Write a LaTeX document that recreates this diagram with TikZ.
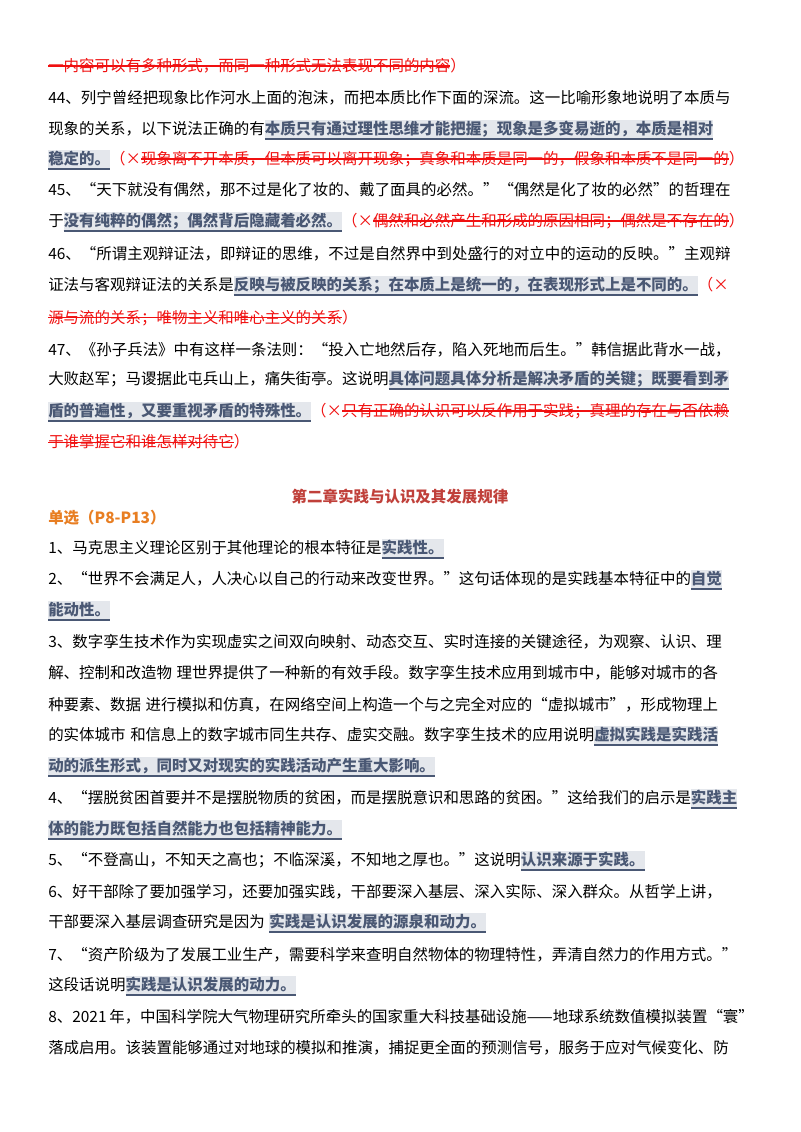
\documentclass[tikz,border=0pt]{standalone}
\usepackage{fontspec}
\setmainfont{Noto Sans CJK SC}
\XeTeXlinebreaklocale "zh"
\XeTeXlinebreakskip=0pt plus 2pt
\definecolor{hlfg}{HTML}{4A5874}
\definecolor{hlbg}{HTML}{E4E7EC}
\definecolor{redx}{HTML}{F01010}
\definecolor{titc}{HTML}{C0403A}
\definecolor{orng}{HTML}{E87E22}
\newsavebox\tmpbx
\newcommand\hlt[1]{\sbox\tmpbx{\color{hlfg}\bfseries #1}\rlap{\color{hlbg}\rule[-0.28em]{\wd\tmpbx}{1.2em}}\rlap{\color{hlfg}\rule[-0.32em]{\wd\tmpbx}{1pt}}\usebox\tmpbx}
\newcommand\stk[1]{\sbox\tmpbx{\color{redx}#1}\rlap{\color{redx}\rule[0.33em]{\wd\tmpbx}{0.9pt}}\usebox\tmpbx}
\newcommand\rx[1]{{\color{redx}#1}}
\newcommand\myspc{\kern3.5pt}
\newcommand\FullL[3]{\node[txt] (#1) at (48,#2) {\hbox to 528pt{#3}};}
\newcommand\PartL[3]{\node[txt] (#1) at (48,#2) {#3};}
\begin{document}
\begin{tikzpicture}[x=0.75pt,y=-0.75pt,
  txt/.style={anchor=west,inner sep=0pt,font=\fontsize{11.6}{14}\selectfont}]
\useasboundingbox (0,0) rectangle (800,1132);
\fill[white] (0,0) rectangle (800,1132);
\PartL{a0}{66}{\stk{一内容可以有多种形式，而同一种形式无法表现不同的内容}\rx{）}}
\FullL{a1}{98}{44、列宁曾经把现象比作河水上面的泡沫，而把本质比作下面的深流。这一比喻形象地说明了本质与}
\FullL{a2}{130}{现象的关系，以下说法正确的有\hlt{本质只有通过理性思维才能把握；现象是多变易逝的，本质是相对}}
\FullL{a3}{160}{\hlt{稳定的。}\rx{（×}\stk{现象离不开本质，但本质可以离开现象；真象和本质是同一的，假象和本质不是同一的}\rx{）}}
\FullL{a4}{190}{45、“天下就没有偶然，那不过是化了妆的、戴了面具的必然。”“偶然是化了妆的必然”的哲理在}
\FullL{a5}{222}{于\hlt{没有纯粹的偶然；偶然背后隐藏着必然。}\rx{（×}\stk{偶然和必然产生和形成的原因相同；偶然是不存在的}\rx{）}}
\FullL{a6}{254}{46、“所谓主观辩证法，即辩证的思维，不过是自然界中到处盛行的对立中的运动的反映。”主观辩}
\FullL{a7}{286}{证法与客观辩证法的关系是\hlt{反映与被反映的关系；在本质上是统一的，在表现形式上是不同的。}\rx{（×}}
\PartL{a8}{318}{\stk{源与流的关系；唯物主义和唯心主义的关系}\rx{）}}
\FullL{a9}{350}{47、《孙子兵法》中有这样一条法则：“投入亡地然后存，陷入死地而后生。”韩信据此背水一战，}
\FullL{a10}{380}{大败赵军；马谡据此屯兵山上，痛失街亭。这说明\hlt{具体问题具体分析是解决矛盾的关键；既要看到矛}}
\FullL{a11}{412}{\hlt{盾的普遍性，又要重视矛盾的特殊性。}\rx{（×}\stk{只有正确的认识可以反作用于实践；真理的存在与否依赖}}
\PartL{a12}{442}{\stk{于谁掌握它和谁怎样对待它}\rx{）}}
\node[txt,anchor=center,font=\fontsize{11.6}{14}\selectfont\bfseries,text=titc] (t) at (400,497) {第二章实践与认识及其发展规律};
\node[txt,font=\fontsize{11.6}{14}\selectfont\bfseries,text=orng] (s) at (48,518) {单选（P8-P13）};
\PartL{b1}{549}{1、马克思主义理论区别于其他理论的根本特征是\hlt{实践性。}}
\FullL{b2}{580}{2、“世界不会满足人，人决心以自己的行动来改变世界。”这句话体现的是实践基本特征中的\hlt{自觉}}
\PartL{b3}{611}{\hlt{能动性。}}
\FullL{b4}{642}{3、数字孪生技术作为实现虚实之间双向映射、动态交互、实时连接的关键途径，为观察、认识、理}
\FullL{b5}{673}{解、控制和改造物\myspc 理世界提供了一种新的有效手段。数字孪生技术应用到城市中，能够对城市的各}
\FullL{b6}{705}{种要素、数据\myspc 进行模拟和仿真，在网络空间上构造一个与之完全对应的“虚拟城市”，形成物理上}
\FullL{b7}{736}{的实体城市\myspc 和信息上的数字城市同生共存、虚实交融。数字孪生技术的应用说明\hlt{虚拟实践是实践活}}
\PartL{b8}{767}{\hlt{动的派生形式，同时又对现实的实践活动产生重大影响。}}
\FullL{b9}{799}{4、“摆脱贫困首要并不是摆脱物质的贫困，而是摆脱意识和思路的贫困。”这给我们的启示是\hlt{实践主}}
\PartL{b10}{830}{\hlt{体的能力既包括自然能力也包括精神能力。}}
\PartL{b11}{861}{5、“不登高山，不知天之高也；不临深溪，不知地之厚也。”这说明\hlt{认识来源于实践。}}
\FullL{b12}{892}{6、好干部除了要加强学习，还要加强实践，干部要深入基层、深入实际、深入群众。从哲学上讲，}
\PartL{b13}{923}{干部要深入基层调查研究是因为\myspc\hlt{实践是认识发展的源泉和动力。}}
\FullL{b14}{955}{7、“资产阶级为了发展工业生产，需要科学来查明自然物体的物理特性，弄清自然力的作用方式。”}
\PartL{b15}{986}{这段话说明\hlt{实践是认识发展的动力。}}
\FullL{b16}{1017}{8、2021\kern2pt 年，中国科学院大气物理研究所牵头的国家重大科技基础设施——地球系统数值模拟装置“寰”}
\FullL{b17}{1048}{落成启用。该装置能够通过对地球的模拟和推演，捕捉更全面的预测信号，服务于应对气候变化、防}
\end{tikzpicture}
\end{document}
